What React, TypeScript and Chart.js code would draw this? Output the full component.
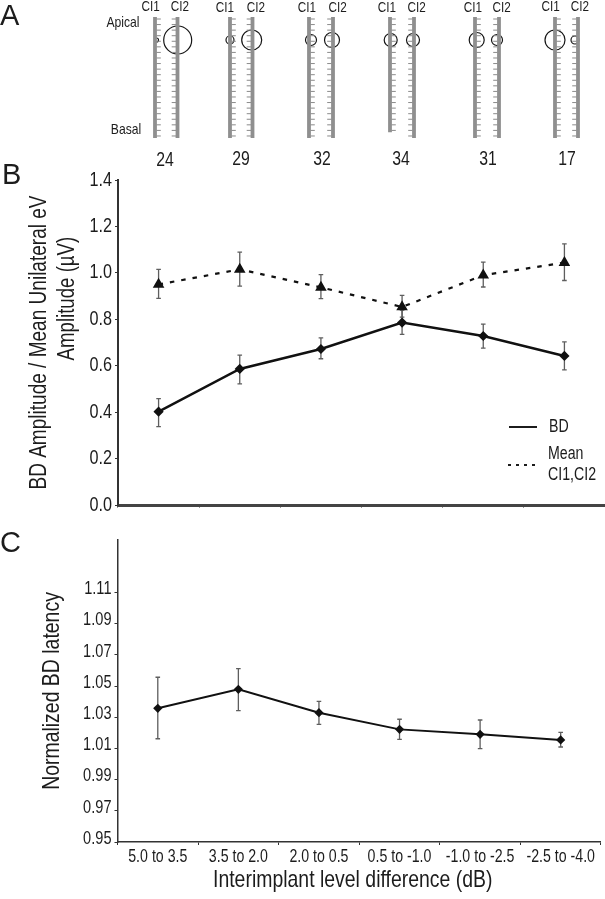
import React, { useEffect, useRef } from "react";
import { Chart, registerables } from "chart.js";

Chart.register(...registerables);

const FONT = '"Liberation Sans", Arial, sans-serif';
const INK = "#1c1c1c";
const NARROW = 0.81;

// Panel A
const patients = ["24", "29", "32", "34", "31", "17"];
const ci1Sizes = [2, 4, 5.5, 6.5, 7.5, 10];
const ci2Sizes = [14, 10, 7.5, 6.5, 5.5, 4];
const ci1Electrodes = [22, 22, 22, 21, 22, 22];
const ci2Electrodes = [22, 22, 22, 22, 22, 22];

// Panels B and C
const levelBins = ["5.0 to 3.5", "3.5 to 2.0", "2.0 to 0.5", "0.5 to -1.0", "-1.0 to -2.5", "-2.5 to -4.0"];
const bdAmplitude = [0.402, 0.586, 0.672, 0.786, 0.728, 0.642];
const bdLow = [0.338, 0.522, 0.63, 0.735, 0.676, 0.582];
const bdHigh = [0.458, 0.646, 0.72, 0.84, 0.779, 0.703];
const meanAmplitude = [0.95, 1.015, 0.9375, 0.853, 0.99, 1.044];
const meanLow = [0.89, 0.943, 0.889, 0.809, 0.939, 0.967];
const meanHigh = [1.015, 1.089, 0.992, 0.903, 1.046, 1.125];
const latency = [1.0357, 1.0479, 1.0329, 1.0222, 1.019, 1.0154];
const latencyLow = [1.0162, 1.0342, 1.0254, 1.0158, 1.0098, 1.0109];
const latencyHigh = [1.0556, 1.0611, 1.0402, 1.0287, 1.0282, 1.0203];
const latencyTicks = [0.95, 0.97, 0.99, 1.01, 1.03, 1.05, 1.07, 1.09, 1.11];

// Panel A drawing layout, in page pixels along the x scale
const shaftCi1 = [155, 230, 309, 390, 475, 555];
const shaftCi2 = [177.5, 252.5, 333, 414, 499, 578];
const circleCi1 = [156.5, 230, 311, 390.7, 476.7, 555];
const circleCi2 = [177.7, 251.7, 332, 413, 497, 575];
const labelCi1 = [150.7, 225, 307, 387, 473, 550.7];
const labelCi2 = [180, 256, 337.7, 416.7, 501.7, 580];
const labelPatient = [165, 241, 322, 401, 488, 567];

// The reference type is a condensed grotesque: squeeze text along its own baseline.
const condense = (canvas: HTMLCanvasElement) => {
  const ctx: any = canvas.getContext("2d");
  if (ctx.__condensed) return;
  ctx.__condensed = true;
  const fill = ctx.fillText.bind(ctx);
  ctx.fillText = (text: string, x: number, y: number) => {
    ctx.save();
    ctx.translate(x, y);
    ctx.scale(NARROW, 1);
    fill(text, 0, 0);
    ctx.restore();
  };
};

type Err = { low: number[]; high: number[] };

const errorBars = (items: Err[]) => ({
  id: "errorBars",
  beforeDatasetsDraw(chart: any) {
    const { ctx, scales } = chart;
    ctx.save();
    items.forEach((it) => {
      it.low.forEach((lo, i) => {
        const x = scales.x.getPixelForValue(i);
        const a = scales.y.getPixelForValue(lo);
        const b = scales.y.getPixelForValue(it.high[i]);
        ctx.strokeStyle = "#5e5e5e";
        ctx.lineWidth = 1.3;
        ctx.beginPath();
        ctx.moveTo(x, a);
        ctx.lineTo(x, b);
        ctx.moveTo(x - 2.3, a);
        ctx.lineTo(x + 2.3, a);
        ctx.moveTo(x - 2.3, b);
        ctx.lineTo(x + 2.3, b);
        ctx.stroke();
      });
    });
    ctx.restore();
  },
});

const shiftXTitle = (dx: number) => ({
  id: "shiftXTitle",
  afterLayout(chart: any) {
    const s = chart.scales.x;
    if (s.__shifted) return;
    s.__shifted = true;
    const draw = s.drawTitle;
    s.drawTitle = function () {
      chart.ctx.save();
      chart.ctx.translate(dx, 0);
      draw.call(this);
      chart.ctx.restore();
    };
  },
});

const panelAText = {
  id: "panelAText",
  afterDraw(chart: any) {
    const { ctx } = chart;
    ctx.save();
    ctx.fillStyle = INK;
    ctx.textAlign = "center";
    ctx.textBaseline = "middle";
    ctx.font = `14.5px ${FONT}`;
    patients.forEach((_, i) => {
      ctx.fillText("CI1", labelCi1[i], i === 0 || i === 5 ? 7 : 8);
      ctx.fillText("CI2", labelCi2[i], i === 0 || i === 5 ? 7 : 8);
    });
    ctx.font = `19.5px ${FONT}`;
    patients.forEach((p, i) => ctx.fillText(p, labelPatient[i], i === 0 ? 161 : 159.5));
    ctx.font = `15px ${FONT}`;
    ctx.fillText("Apical", 123, 23);
    ctx.fillText("Basal", 126, 130);
    ctx.restore();
  },
};

const legendB = {
  id: "legendB",
  afterDraw(chart: any) {
    const { ctx } = chart;
    const top = chart.canvas.offsetTop;
    ctx.save();
    ctx.strokeStyle = INK;
    ctx.lineWidth = 2;
    ctx.beginPath();
    ctx.moveTo(509, 427 - top);
    ctx.lineTo(537, 427 - top);
    ctx.stroke();
    ctx.setLineDash([3, 5]);
    ctx.beginPath();
    ctx.moveTo(508, 465 - top);
    ctx.lineTo(536, 465 - top);
    ctx.stroke();
    ctx.setLineDash([]);
    ctx.fillStyle = INK;
    ctx.textAlign = "left";
    ctx.textBaseline = "middle";
    ctx.font = `17.5px ${FONT}`;
    ctx.fillText("BD", 549, 427 - top);
    ctx.fillText("Mean", 548, 454 - top);
    ctx.fillText("CI1,CI2", 548, 475 - top);
    // second line of the y axis title sits off-centre in the reference
    ctx.save();
    ctx.translate(68, 298.6 - top);
    ctx.rotate(-Math.PI / 2);
    ctx.textAlign = "center";
    ctx.font = `23px ${FONT}`;
    ctx.fillText("Amplitude (µV)", 0, 0);
    ctx.restore();
    ctx.restore();
  },
};

export default function App() {
  const aRef = useRef<HTMLCanvasElement>(null);
  const bRef = useRef<HTMLCanvasElement>(null);
  const cRef = useRef<HTMLCanvasElement>(null);

  useEffect(() => {
    [aRef, bRef, cRef].forEach((r) => condense(r.current!));
    const spacing = 5.57;
    const first = 19;
    const toE = (px: number) => 1 + (px - first) / spacing;
    const shaftSets: any[] = [];
    patients.forEach((p, i) => {
      [
        { name: "CI1", x: shaftCi1[i], n: ci1Electrodes[i], side: 3.6 },
        { name: "CI2", x: shaftCi2[i], n: ci2Electrodes[i], side: -3.6 },
      ].forEach((s) => {
        shaftSets.push({
          label: `${p} ${s.name} array`,
          data: [
            { x: s.x, y: toE(17) },
            { x: s.x, y: s.n + 0.35 },
          ],
          showLine: true,
          borderColor: "#8f8f8f",
          borderWidth: 3.8,
          pointRadius: 0,
        });
        shaftSets.push({
          label: `${p} ${s.name} electrodes`,
          data: Array.from({ length: s.n }, (_, k) => ({ x: s.x + s.side, y: k + 1 })),
          showLine: false,
          pointStyle: "line",
          pointRadius: 2.2,
          pointBorderColor: "#8a8a8a",
          pointBorderWidth: 1,
        });
      });
    });
    const circles = {
      label: "Response",
      data: [
        ...patients.map((_, i) => ({ x: circleCi1[i], y: toE(40) })),
        ...patients.map((_, i) => ({ x: circleCi2[i], y: toE(40) })),
      ],
      showLine: false,
      pointStyle: "circle",
      pointRadius: [...ci1Sizes, ...ci2Sizes],
      pointBackgroundColor: "rgba(0,0,0,0)",
      pointBorderColor: "#151515",
      pointBorderWidth: 1.2,
    };
    const a = new Chart(aRef.current!, {
      type: "scatter",
      data: { datasets: [...shaftSets, circles] },
      plugins: [panelAText],
      options: {
        animation: false,
        responsive: false,
        layout: { padding: 0, autoPadding: false },
        plugins: { legend: { display: false }, tooltip: { enabled: false } },
        scales: {
          x: { type: "linear", min: 0, max: 605, display: false },
          y: { type: "linear", reverse: true, min: toE(0), max: toE(168), display: false },
        },
      },
    } as any);

    const b = new Chart(bRef.current!, {
      type: "line",
      data: {
        labels: levelBins,
        datasets: [
          {
            label: "BD",
            data: bdAmplitude,
            borderColor: "#111",
            borderWidth: 2.4,
            pointStyle: "rectRot",
            pointRadius: 3.4,
            pointBackgroundColor: "#111",
            pointBorderColor: "#111",
            tension: 0,
          },
          {
            label: "Mean CI1,CI2",
            data: meanAmplitude,
            borderColor: "#111",
            borderWidth: 2.2,
            borderDash: [4.5, 7],
            pointStyle: "triangle",
            pointRadius: 4.5,
            pointBackgroundColor: "#111",
            pointBorderColor: "#111",
            tension: 0,
          },
        ],
      },
      plugins: [
        errorBars([
          { low: bdLow, high: bdHigh },
          { low: meanLow, high: meanHigh },
        ]),
        legendB,
      ],
      options: {
        animation: false,
        responsive: false,
        layout: { padding: { top: 15, right: 0, bottom: 0, left: 0 }, autoPadding: false },
        plugins: { legend: { display: false }, tooltip: { enabled: false } },
        scales: {
          x: {
            type: "category",
            offset: true,
            afterFit: (s: any) => {
              s.height = 13;
            },
            border: { color: "#444", width: 3 },
            grid: { offset: true, drawOnChartArea: false, tickLength: 3, color: "#999" },
            ticks: { display: false },
          },
          y: {
            min: 0,
            max: 1.4,
            afterFit: (s: any) => {
              s.width = 118;
            },
            border: { color: "#333", width: 2 },
            grid: { drawOnChartArea: false, tickLength: 3, color: "#333" },
            ticks: {
              stepSize: 0.2,
              padding: 3,
              color: INK,
              font: { family: FONT, size: 20 },
              callback: (v: any) => Number(v).toFixed(1),
            },
            title: {
              display: true,
              text: "BD Amplitude / Mean Unilateral eV",
              color: INK,
              font: { family: FONT, size: 23.5, lineHeight: 1.22 },
              padding: { top: 25, bottom: 0 },
            },
          },
        },
      },
    } as any);

    const c = new Chart(cRef.current!, {
      type: "line",
      data: {
        labels: levelBins,
        datasets: [
          {
            label: "Normalized BD latency",
            data: latency,
            borderColor: "#111",
            borderWidth: 2,
            pointStyle: "rectRot",
            pointRadius: 3.2,
            pointBackgroundColor: "#111",
            pointBorderColor: "#111",
            tension: 0,
          },
        ],
      },
      plugins: [errorBars([{ low: latencyLow, high: latencyHigh }]), shiftXTitle(-6.5)],
      options: {
        animation: false,
        responsive: false,
        layout: { padding: { top: 10, right: 0, bottom: 0, left: 0 }, autoPadding: false },
        plugins: { legend: { display: false }, tooltip: { enabled: false } },
        scales: {
          x: {
            type: "category",
            offset: true,
            afterFit: (s: any) => {
              s.height = 57;
            },
            border: { color: "#333", width: 1.5 },
            grid: { offset: true, drawOnChartArea: false, tickLength: 3, color: "#333" },
            ticks: { color: INK, font: { family: FONT, size: 17.5 }, padding: 2, maxRotation: 0, autoSkip: false },
            title: {
              display: true,
              text: "Interimplant level difference (dB)",
              color: INK,
              font: { family: FONT, size: 24, lineHeight: 1.2 },
              padding: { top: 0, bottom: 4.5 },
            },
          },
          y: {
            min: 0.95,
            max: 1.1436,
            afterBuildTicks: (s: any) => {
              s.ticks = latencyTicks.map((value) => ({ value }));
            },
            afterFit: (s: any) => {
              s.width = 117.5;
            },
            border: { color: "#333", width: 1.5 },
            grid: { drawOnChartArea: false, tickLength: 3, color: "#333" },
            ticks: {
              padding: 3,
              color: INK,
              font: { family: FONT, size: 18, lineHeight: 0.35 },
              callback: (v: any) => [Number(v).toFixed(2), ""],
            },
            title: {
              display: true,
              text: "Normalized BD latency",
              color: INK,
              font: { family: FONT, size: 24, lineHeight: 1.2 },
              padding: { top: 37.5, bottom: 0 },
            },
          },
        },
      },
    } as any);

    return () => {
      a.destroy();
      b.destroy();
      c.destroy();
    };
  }, []);

  const letter = (t: string, top: number, left: number) => (
    <div
      style={{
        position: "absolute",
        left,
        top,
        font: `29px/34px ${FONT}`,
        color: INK,
      }}
    >
      {t}
    </div>
  );

  return (
    <div style={{ position: "absolute", left: 0, top: 0, width: 605, height: 899, background: "#fff", overflow: "hidden" }}>
      <canvas ref={aRef} width={605} height={168} style={{ position: "absolute", left: 0, top: 0 }} />
      <canvas ref={bRef} width={605} height={355} style={{ position: "absolute", left: 0, top: 165 }} />
      <canvas ref={cRef} width={605} height={369} style={{ position: "absolute", left: 0, top: 530 }} />
      {letter("A", -2, 0)}
      {letter("B", 157, 2)}
      {letter("C", 525, 0)}
    </div>
  );
}
